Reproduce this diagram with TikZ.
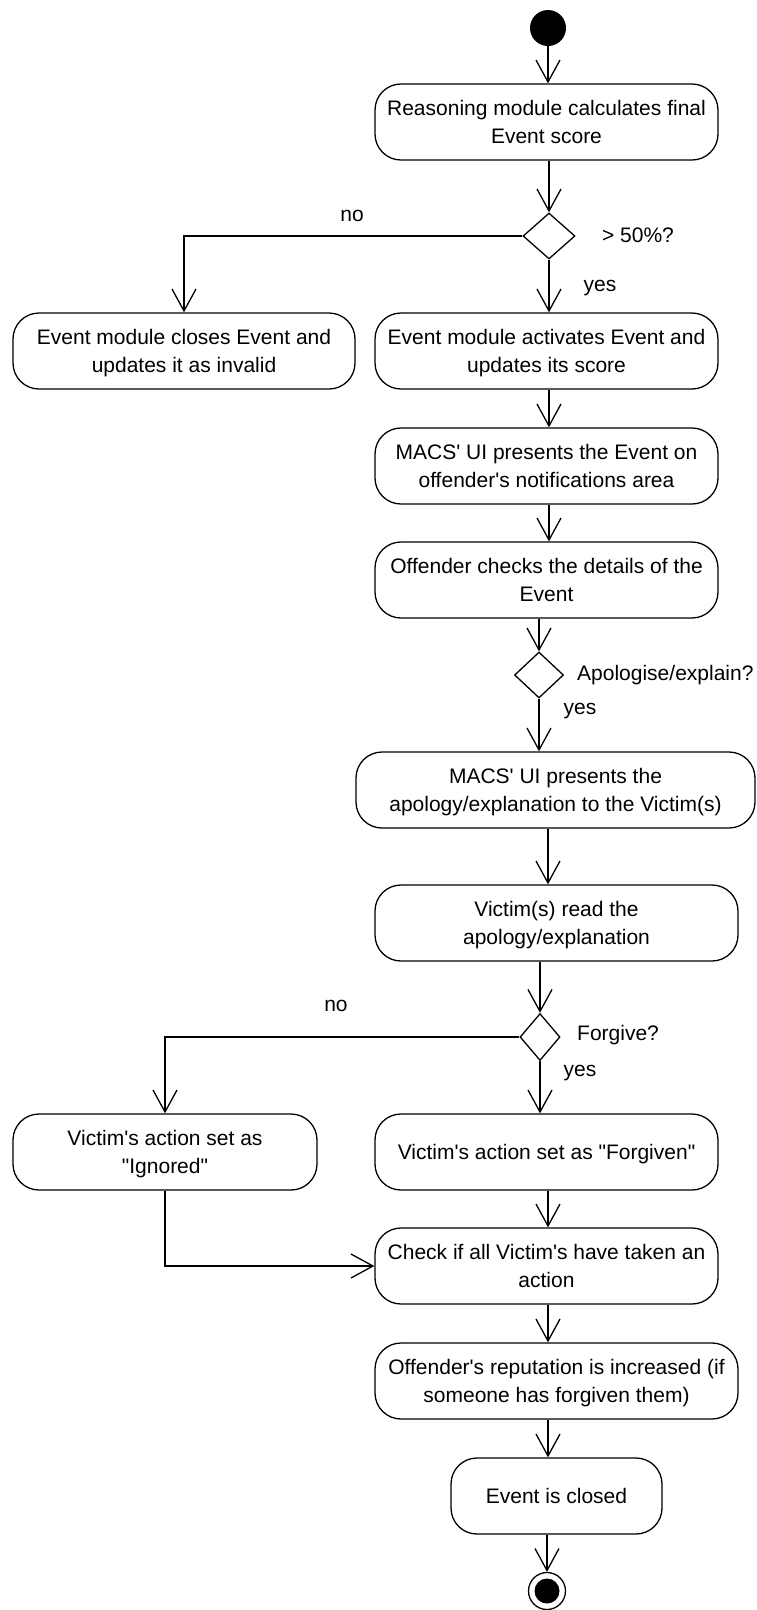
\documentclass[tikz,border=0pt]{standalone}
\usepackage{fontspec}
\setmainfont{Liberation Sans}[Ligatures=TeXOff]
\usetikzlibrary{arrows.meta, shapes.geometric, positioning}

\begin{document}
\begin{tikzpicture}[
    x=1pt, y=-1pt,
    every node/.style={font=\fontsize{21}{28}\selectfont},
    actbox/.style={draw, line width=1.3pt, rounded corners=26pt, minimum height=76pt, align=center, inner sep=0pt, text depth=0pt},
    decision/.style={draw, diamond, line width=1.3pt, inner sep=0pt},
    guard/.style={inner sep=0pt},
    flow/.style={line width=1.3pt, -{Straight Barb[length=22pt, width=24pt, line width=1.3pt]}},
  ]
  \useasboundingbox (0,0) rectangle (756,1610);

  % initial node and activities
  \node[circle, fill=black, minimum size=36pt, inner sep=0pt] (start) at (548,28) {};
  \node[actbox, minimum width=343pt] (calc) at (546.5,122) {Reasoning module calculates final\\Event score};
  \node[decision, minimum width=52pt, minimum height=46pt] (dec1) at (549,236) {};
  \node[actbox, minimum width=342pt] (closeinv) at (184,351) {Event module closes Event and\\updates it as invalid};
  \node[actbox, minimum width=343pt] (activate) at (546.5,351) {Event module activates Event and\\updates its score};
  \node[actbox, minimum width=343pt] (notify) at (546.5,466) {MACS' UI presents the Event on\\offender's notifications area};
  \node[actbox, minimum width=343pt] (details) at (546.5,580) {Offender checks the details of the\\Event};
  \node[decision, minimum width=49pt, minimum height=46pt] (dec2) at (539,675) {};
  \node[actbox, minimum width=399pt] (present) at (555.5,790) {MACS' UI presents the\\apology/explanation to the Victim(s)};
  \node[actbox, minimum width=363pt] (read) at (556.5,923) {Victim(s) read the\\apology/explanation};
  \node[decision, minimum width=40pt, minimum height=47pt] (dec3) at (540,1037) {};
  \node[actbox, minimum width=304pt] (ignored) at (165,1152) {Victim's action set as\\"Ignored"};
  \node[actbox, minimum width=343pt] (forgiven) at (546.5,1152) {Victim's action set as "Forgiven"};
  \node[actbox, minimum width=343pt] (check) at (546.5,1266) {Check if all Victim's have taken an\\action};
  \node[actbox, minimum width=363pt] (reput) at (556.5,1381) {Offender's reputation is increased (if\\someone has forgiven them)};
  \node[actbox, minimum width=211pt] (closed) at (556.5,1496) {Event is closed};
  \node[circle, draw, line width=1.3pt, minimum size=37pt, inner sep=0pt,
    path picture={\fill (path picture bounding box.center) circle (12.5pt);}] (final) at (547,1591) {};

  % guards
  \node[guard] (no1) at (352,216) {no};
  \node[guard] (gt50) at (638,235) {> 50\%?};
  \node[guard] (yes1) at (600,288) {yes};
  \node[guard, anchor=west] (apol) at (577,675) {Apologise/explain?};
  \node[guard] (yes2) at (580,711) {yes};
  \node[guard] (no3) at (336,1006) {no};
  \node[guard, anchor=west] (forg) at (577,1035) {Forgive?};
  \node[guard] (yes3) at (580,1073) {yes};

  % control flows
  \draw[flow] (start.south) -- (calc.north -| start);
  \draw[flow] (calc.south -| dec1) -- (dec1.north);
  \draw[flow] (dec1.south) -- (activate.north -| dec1);
  \draw[flow] (dec1.west) -| (closeinv.north);
  \draw[flow] (activate.south -| dec1) -- (notify.north -| dec1);
  \draw[flow] (notify.south -| dec1) -- (details.north -| dec1);
  \draw[flow] (details.south -| dec2) -- (dec2.north);
  \draw[flow] (dec2.south) -- (present.north -| dec2);
  \draw[flow] (present.south -| start) -- (read.north -| start);
  \draw[flow] (read.south -| dec3) -- (dec3.north);
  \draw[flow] (dec3.south) -- (forgiven.north -| dec3);
  \draw[flow] (dec3.west) -| (ignored.north);
  \draw[flow] (forgiven.south -| start) -- (check.north -| start);
  \draw[flow] (ignored.south) |- (check.west);
  \draw[flow] (check.south -| start) -- (reput.north -| start);
  \draw[flow] (reput.south -| start) -- (closed.north -| start);
  \draw[flow] (closed.south -| final) -- (final.north);
\end{tikzpicture}
\end{document}
